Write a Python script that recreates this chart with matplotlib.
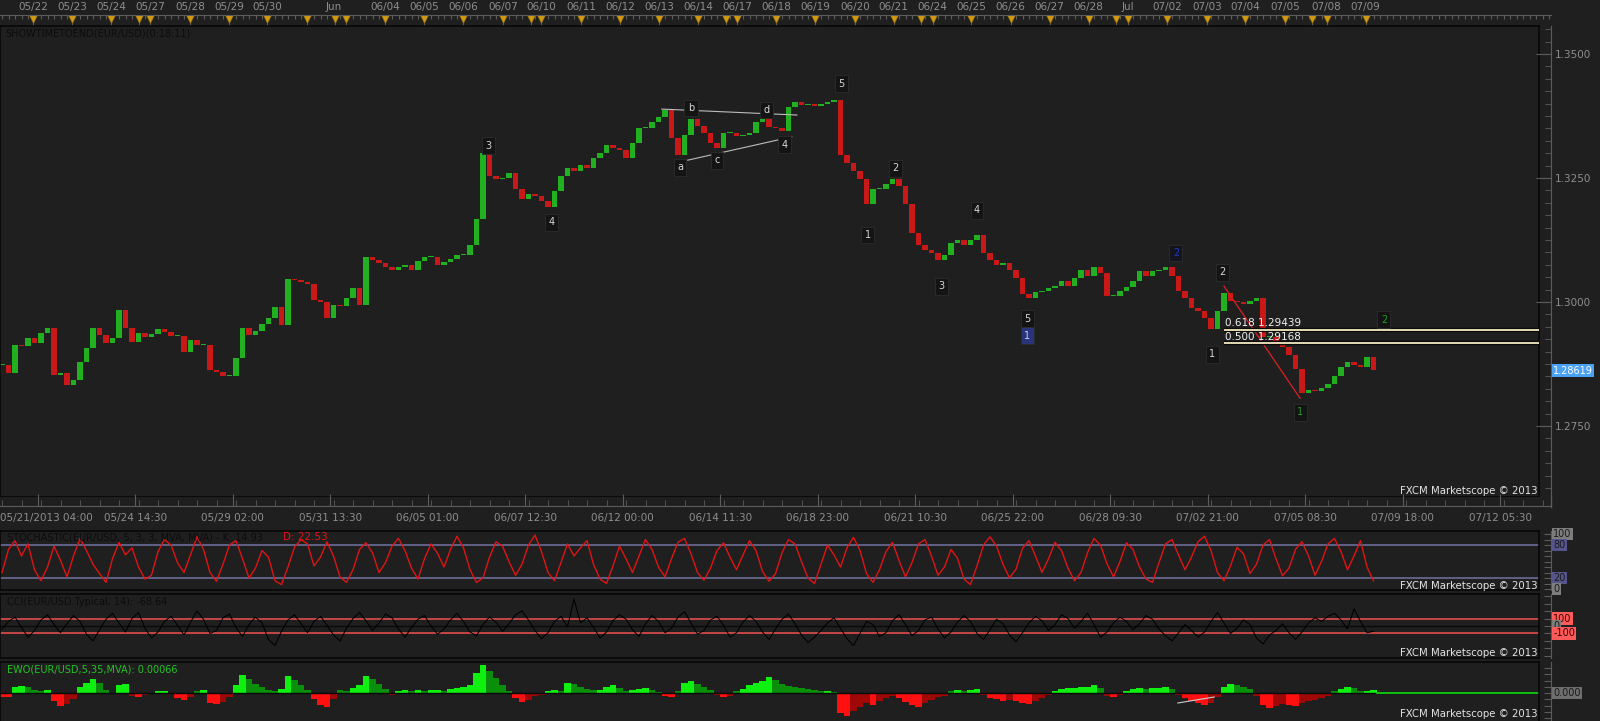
import numpy as np
import matplotlib
matplotlib.use('Agg')
import matplotlib.pyplot as plt
from matplotlib.ticker import MultipleLocator

plt.rcParams['font.family'] = ['DejaVu Sans']

# ---- data (4h bars) ----
CLOSE = [
    1.2873, 1.2857, 1.2913, 1.2911, 1.2927, 1.2917, 1.2938, 1.2948, 1.2853, 1.2857,
    1.2833, 1.2843, 1.2879, 1.2907, 1.2948, 1.2933, 1.2917, 1.2927, 1.2984, 1.2948,
    1.2919, 1.2938, 1.2929, 1.2935, 1.2946, 1.2940, 1.2931, 1.2931, 1.2899, 1.2923,
    1.2913, 1.2913, 1.2863, 1.2859, 1.2851, 1.2851, 1.2887, 1.2948, 1.2933, 1.2942,
    1.2956, 1.2968, 1.2990, 1.2954, 1.3046, 1.3044, 1.3040, 1.3036, 1.3004, 1.3000,
    1.2968, 1.2994, 1.2992, 1.3008, 1.3028, 1.2994,
    1.3091, 1.3085, 1.3079, 1.3071, 1.3065, 1.3071, 1.3075, 1.3065, 1.3083, 1.3091,
    1.3091, 1.3075, 1.3081, 1.3087, 1.3095, 1.3095, 1.3115, 1.3167,
    1.3300, 1.3254, 1.3248, 1.3250, 1.3260, 1.3228, 1.3208, 1.3218, 1.3214, 1.3204,
    1.3192, 1.3224, 1.3254, 1.3270, 1.3264, 1.3276, 1.3270, 1.3290, 1.3300, 1.3317,
    1.3310, 1.3306, 1.3290, 1.3321, 1.3351, 1.3351, 1.3363, 1.3373, 1.3387, 1.3331,
    1.3296, 1.3337, 1.3369, 1.3355, 1.3341, 1.3321, 1.3310, 1.3341, 1.3341, 1.3335,
    1.3337, 1.3341, 1.3363, 1.3369, 1.3353, 1.3351, 1.3345, 1.3393, 1.3403, 1.3397,
    1.3399, 1.3395, 1.3399, 1.3403, 1.3407,
    1.3296, 1.3280, 1.3264, 1.3248, 1.3198, 1.3228, 1.3228, 1.3238, 1.3248, 1.3234,
    1.3198, 1.3139, 1.3115, 1.3105, 1.3099, 1.3085, 1.3095, 1.3119, 1.3125, 1.3115,
    1.3125, 1.3135, 1.3099, 1.3085, 1.3075, 1.3079, 1.3065, 1.3048, 1.3016, 1.3008,
    1.3020, 1.3022, 1.3028, 1.3032, 1.3042, 1.3032, 1.3048, 1.3065, 1.3052, 1.3071,
    1.3058, 1.3012, 1.3012, 1.3022, 1.3030, 1.3042, 1.3062, 1.3052, 1.3062, 1.3065,
    1.3071, 1.3052, 1.3022, 1.3008, 1.2988, 1.2982, 1.2968, 1.2946, 1.2982, 1.3018,
    1.3002, 1.3000, 1.2996, 1.3002, 1.3008, 1.2929, 1.2929, 1.2919, 1.2909, 1.2893,
    1.2865, 1.2817, 1.2823, 1.2821, 1.2827, 1.2835, 1.2851, 1.2869, 1.2879, 1.2873,
    1.2869, 1.2889, 1.2862,
]
LAST_PRICE = 1.28619

STOCH_K = [
    30, 72, 88, 60, 82, 35, 15, 40, 78, 52, 22, 60, 92, 70, 45, 28, 12, 55, 85, 62,
    75, 40, 18, 25, 68, 90, 80, 48, 30, 62, 95, 72, 30, 14, 45, 80, 88, 55, 20, 38,
    70, 58, 15, 8, 40, 76, 90, 82, 42, 58, 86, 60, 22, 12, 35, 72, 84, 66, 30, 48,
    78, 92, 70, 38, 18, 55, 82, 65, 40, 72, 96, 75, 35, 12, 20, 58, 86, 78, 50, 25,
    45, 80, 98, 68, 30, 15, 48, 82, 60, 75, 88, 45, 18, 10, 42, 78, 55, 30, 60, 90,
    72, 40, 22, 55, 85, 92, 64, 30, 16, 38, 70, 84, 58, 35, 62, 88, 70, 32, 14, 28,
    66, 90, 82, 50, 20, 10, 45, 80, 62, 40, 75, 94, 70, 28, 12, 35, 68, 85, 52, 22,
    48, 82, 90, 60, 25, 40, 72, 56, 18, 8, 42, 80, 95, 78, 45, 20, 36, 74, 88, 60,
    30, 55, 85, 70, 38, 15, 30, 66, 92, 80, 46, 22, 50, 84, 72, 40, 18, 12, 48, 82,
    90, 62, 35, 58, 86, 96, 70, 30, 15, 42, 76, 64, 28, 45, 80, 90, 55, 24, 38, 72,
    86, 60, 25, 50, 82, 92, 68, 35, 60, 88, 40, 15,
]

CCI = [
    -40, 60, 120, -20, -150, -60, 80, 150, 20, -90, 30, 140, 60, -110, -200, -50, 90, 170, 40, -80,
    100, 180, -30, -160, -80, 60, 130, 10, -120, 50, 200, 90, -100, -60, 110, 160, -20, -140, 20, 120,
    40, -180, -260, -70, 80, 150, 30, -90, 60, 130, 10, -120, -200, -30, 100, 180, 70, -60, 40, 160,
    110, -40, -150, -20, 90, 140, 0, -110, -40, 80, 170, 60, -80, -130, 20, 120, 50, -70, 30, 150,
    200, 80, -60, -170, -90, 60, 130, -10, 360, 40, 110, -20, -160, -80, 70, 150, 90, -50, -140, 30,
    140, 60, -90, -30, 120, 190, 40, -110, -60, 80, 130, 10, -150, -90, 50, 140, 60, -80, -180, -40,
    90, 160, 30, -120, -220, -150, -60, 40, 110, -30, -170, -260, -100, 60, 20, -140, -90, 70, 150, 20,
    -130, -60, 80, 120, -40, -160, -80, 50, 140, 60, -100, -180, -50, 90, 30, -120, -210, -90, 40, 130,
    70, -60, 20, 150, 100, -30, 60, 170, 20, -150, -80, 40, 120, 60, -50, 30, 140, 90, -40, -130,
    -200, -90, 20, -60, -150, -80, 60, 180, 40, -100, -30, 80, 20, -160, -240, -120, -60, 30, -90, -180,
    -80, 40, 110, 60, 130, 170, 80, -40, 230, 60, -90, -69,
]

# EWO(5,35) histogram, units of 1e-4
EWO_E4 = [
    -8, -8, 12, 14, 12, 6, 4, 6, -16, -26, -22, -12, 12, 20, 28, 20, 6, -2, 16, 18,
    -6, -8, -4, -2, 4, 4, 0, -10, -14, -8, 4, 6, -20, -22, -18, -8, 16, 36, 28, 18,
    12, 6, 4, 8, 34, 26, 16, 6, -12, -24, -28, -12, 6, 4, 10, 16, 34, 28, 18, 8,
    -4, 4, 6, 4, 6, 4, 6, 6, 4, 8, 10, 12, 16, 40, 56, 44, 30, 16, 4, -10,
    -18, -14, -6, -4, 4, 6, 4, 20, 18, 12, 8, 6, 6, 12, 16, 10, 4, 6, 8, 10,
    6, 2, -6, -8, 4, 20, 24, 18, 12, 6, -4, -8, -6, 4, 8, 16, 20, 24, 32, 26,
    18, 14, 12, 10, 8, 6, 4, 4, 2, -40, -46, -36, -28, -20, -24, -16, -10, -6, -10, -18,
    -24, -28, -20, -14, -8, -6, 4, 6, 4, 6, 8, -4, -10, -12, -16, -14, -16, -20, -22, -16,
    -10, -4, 4, 8, 10, 10, 12, 12, 16, 10, -6, -8, -4, 4, 8, 10, 8, 10, 10, 12,
    8, -4, -10, -16, -20, -24, -20, -8, 12, 18, 16, 12, 8, -6, -24, -30, -26, -22, -24, -26,
    -20, -16, -14, -10, -6, 4, 8, 12, 10, 4, 4, 6,
]

# day markers on the top strip (bar positions)
DAY_TRI = [4.8, 10.8, 16.8, 21.1, 22.8, 28.9, 34.9, 40.8, 46.9, 51.2, 52.9, 58.9, 64.9,
           70.9, 77.1, 81.4, 82.9, 89.1, 95.1, 101.1, 107.1, 111.4, 113.1, 119.1, 125.1,
           131.2, 137.2, 141.4, 143.2, 149.1, 155.2, 161.2, 167.2, 171.4, 173.2, 179.2,
           185.4, 191.2, 197.4, 201.5, 203.8, 209.8]
DAY_TXT = ['05/22', '05/23', '05/24', '05/27', '05/28', '05/29', '05/30', 'Jun', '06/04',
           '06/05', '06/06', '06/07', '06/10', '06/11', '06/12', '06/13', '06/14', '06/17',
           '06/18', '06/19', '06/20', '06/21', '06/24', '06/25', '06/26', '06/27', '06/28',
           'Jul', '07/02', '07/03', '07/04', '07/05', '07/08', '07/09']
DAY_POS = [4.8, 10.8, 16.8, 22.8, 28.9, 34.9, 40.8, 51.1, 58.9, 64.9, 70.9, 77.1, 82.9,
           89.1, 95.1, 101.1, 107.1, 113.1, 119.1, 125.1, 131.2, 137.2, 143.2, 149.1,
           155.2, 161.2, 167.2, 173.2, 179.2, 185.4, 191.2, 197.4, 203.8, 209.8]

# bottom time axis: one label every 15 bars starting at 5.5
TIME_TXT = ['05/21/2013 04:00', '05/24 14:30', '05/29 02:00', '05/31 13:30', '06/05 01:00',
            '06/07 12:30', '06/12 00:00', '06/14 11:30', '06/18 23:00', '06/21 10:30',
            '06/25 22:00', '06/28 09:30', '07/02 21:00', '07/05 08:30', '07/09 18:00',
            '07/12 05:30']

# Elliott wave labels: bar, price, text, kind
WAVE_X = [74.8, 84.5, 104.3, 106.0, 110.0, 117.6, 120.4, 129.2, 133.2, 137.5, 144.5,
          150.0, 157.8, 157.7, 180.6, 187.8, 186.2, 199.7, 212.6]
WAVE_P = [1.3315, 1.3161, 1.3272, 1.3391, 1.3286, 1.3387, 1.3317, 1.3440, 1.3135, 1.3270,
          1.3032, 1.3185, 1.2966, 1.2932, 1.3099, 1.3060, 1.2895, 1.2778, 1.2964]
WAVE_TXT = ['3', '4', 'a', 'b', 'c', 'd', '4', '5', '1', '2', '3', '4', '5', '1', '2', '2',
            '1', '1', '2']
WAVE_KIND = ['w', 'w', 'w', 'w', 'w', 'w', 'w', 'w', 'w', 'w', 'w', 'w', 'w', 'b', 'B', 'w',
             'w', 'g', 'g']

TRI_BD = ([101.5, 122.3], [1.3389, 1.3377])
TRI_AC = ([105.5, 121.5], [1.3286, 1.3333])
FIB_SWING = ([188.0, 199.7], [1.3032, 1.2806])
FIB_RATIO = ['0.618', '0.500']
FIB_PRICE = [1.29439, 1.29168]
EWO_TREND = ([180.9, 186.5], [-20, -8])

# ---- look ----
W, H = 1600, 721
BAR_PX = 6.5
X0 = -2 / BAR_PX
BG = '#1f1f1f'
AXIS = '#5c5c5c'
TXT = '#8e8e8e'
GREEN, RED = '#20b020', '#c81818'
WM = 'FXCM Marketscope \u00a9 2013'


def add_axes(fig, x0, x1, y_top, y_bot):
    ax = fig.add_axes([x0 / W, 1 - y_bot / H, (x1 - x0) / W, (y_bot - y_top) / H])
    ax.set_facecolor(BG)
    return ax


def panel(fig, y_top, y_bot, ylim):
    ax = add_axes(fig, 0, 1539, y_top, y_bot)
    ax.set_xlim(X0, X0 + 1539 / BAR_PX)
    ax.set_ylim(*ylim)
    ax.set_xticks([])
    ax.set_yticks([])
    for s in ax.spines.values():
        s.set_color('#080808')
        s.set_linewidth(1.2)
    return ax


def side_axis(fig, y_top, y_bot, ylim, step):
    ax = add_axes(fig, 1539, 1551, y_top, y_bot)
    ax.set_facecolor('none')
    ax.set_xlim(0, 1)
    ax.set_ylim(*ylim)
    for s in ('top', 'bottom', 'left'):
        ax.spines[s].set_visible(False)
    ax.spines['right'].set_color(AXIS)
    ax.set_xticks([])
    ax.yaxis.tick_right()
    ax.yaxis.set_major_locator(MultipleLocator(step))
    ax.tick_params(axis='y', direction='in', length=5, color=AXIS, labelright=False)
    return ax


def tag(ax, y, s, fc, tc):
    ax.text(1.2, y, s, transform=ax.get_yaxis_transform(), ha='left', va='center',
            fontsize=7, color=tc, bbox=dict(boxstyle='square,pad=0.12', fc=fc, ec='none'))


def wm(y_px):
    plt.gcf().text(1537 / W, 1 - y_px / H, WM, ha='right', va='center',
                   fontsize=7.3, color='#e4e4e4')


def main():
    fig = plt.figure(figsize=(W / 100, H / 100), dpi=100)
    fig.patch.set_facecolor(BG)

    close = np.array(CLOSE)
    idx = np.arange(len(close))
    opens = np.r_[close[0], close[:-1]]
    up = close >= opens

    # ---- top day strip ----
    axt = add_axes(fig, 0, 1551, 15, 26)
    axt.set_xlim(X0, X0 + 1551 / BAR_PX)
    axt.set_ylim(0, 1)
    for s in ('bottom', 'left', 'right'):
        axt.spines[s].set_visible(False)
    axt.spines['top'].set_color(AXIS)
    axt.set_yticks([])
    axt.xaxis.tick_top()
    axt.xaxis.set_major_locator(MultipleLocator(1))
    axt.tick_params(axis='x', direction='in', length=3, color=AXIS, labeltop=False)
    axt.vlines(DAY_TRI, 0, 1, color=AXIS, lw=0.8)
    axt.plot(DAY_TRI, [0.62] * len(DAY_TRI), 'v', color='#d09a12', ms=6, mec='#8a6400', mew=0.4)
    for s, x in zip(DAY_TXT, DAY_POS):
        axt.text(x, 1.75, s, ha='center', va='center', fontsize=7.5, color=TXT)

    # ---- price panel ----
    pylim = (1.26069, 1.35565)
    ax = panel(fig, 26, 497, pylim)
    lo = np.minimum(opens, close)
    hgt = np.maximum(np.abs(close - opens), 0.00025)
    ax.bar(idx, hgt, bottom=lo, width=0.85, color=np.where(up, GREEN, RED), linewidth=0, zorder=2)
    ax.plot(*TRI_BD, color='#bdbdbd', lw=0.8, zorder=3)
    ax.plot(*TRI_AC, color='#bdbdbd', lw=0.8, zorder=3)
    ax.plot(*FIB_SWING, color='#e02020', lw=0.9, zorder=3)
    for r, p in zip(FIB_RATIO, FIB_PRICE):
        ax.plot([FIB_SWING[0][0], ax.get_xlim()[1]], [p, p], color='#0a0a0a', lw=3.2, zorder=3,
                solid_capstyle='butt')
        ax.plot([FIB_SWING[0][0], ax.get_xlim()[1]], [p, p], color='#e4dab4', lw=1.4, zorder=4,
                solid_capstyle='butt')
        ax.text(FIB_SWING[0][0] + 0.2, p + 0.0013, '%s %.5f' % (r, p), ha='left', va='center',
                fontsize=7.5, color='#f0f0f0', zorder=5)
    style = {'w': ('#d6d6d6', '#141414'), 'b': ('#c8d0ff', '#2a347a'),
             'B': ('#2036c8', '#141420'), 'g': ('#1fa01f', '#141414')}
    for x, p, s, k in zip(WAVE_X, WAVE_P, WAVE_TXT, WAVE_KIND):
        fg, bg = style[k]
        ax.text(x, p, s, ha='center', va='center', fontsize=7, color=fg, zorder=6,
                bbox=dict(boxstyle='square,pad=0.35', fc=bg, ec='#2c2c2c', lw=0.6))
    fig.text(5 / W, 1 - 33 / H, 'SHOWTIMETOEND(EUR/USD)(0:18:11)', fontsize=7,
             color='#0c0c0c', va='center')
    wm(491)

    axp = side_axis(fig, 26, 497, pylim, 0.025)
    axp.yaxis.set_minor_locator(MultipleLocator(0.0025))
    axp.tick_params(axis='y', which='major', length=11, labelright=True, labelcolor=TXT,
                    labelsize=7.5, pad=3)
    axp.tick_params(axis='y', which='minor', direction='in', length=4, color=AXIS)
    axp.yaxis.set_major_formatter(plt.FuncFormatter(lambda v, _: '%.4f' % v))
    tag(axp, LAST_PRICE, '%.5f' % LAST_PRICE, '#4aa2f4', 'white')
    fig.add_artist(plt.Line2D([1551 / W, 1551 / W], [1 - 497 / H, 1 - 507 / H], color=AXIS, lw=1))

    # ---- bottom time axis ----
    axx = add_axes(fig, 0, 1551, 497, 506)
    axx.set_xlim(X0, X0 + 1551 / BAR_PX)
    axx.set_ylim(0, 1)
    for s in ('top', 'left', 'right'):
        axx.spines[s].set_visible(False)
    axx.spines['bottom'].set_color(AXIS)
    axx.set_yticks([])
    ticks = 5.5 + 15 * np.arange(len(TIME_TXT))
    axx.set_xticks(ticks)
    axx.xaxis.set_minor_locator(MultipleLocator(3))
    axx.tick_params(axis='x', which='major', direction='in', length=9, color=AXIS, labelbottom=False)
    axx.tick_params(axis='x', which='minor', direction='in', length=4, color=AXIS)
    for i, (x, s) in enumerate(zip(ticks, TIME_TXT)):
        axx.text(X0 if i == 0 else x, -1.35, s, ha='left' if i == 0 else 'center', va='center',
                 fontsize=7.5, color=TXT)

    # ---- stochastic ----
    sylim = (-1.8, 105.5)
    axs = panel(fig, 531, 590, sylim)
    for lv in (80, 20):
        axs.axhline(lv, color='#66668f', lw=1.3)
    axs.plot(np.arange(len(STOCH_K)), STOCH_K, color='#e01414', lw=1.0)
    fig.text(7 / W, 1 - 537 / H, 'STOCHASTIC(EUR/USD, 5, 3, 3, MVA, MVA) - K: 14.93',
             fontsize=7, color='#0c0c0c', va='center')
    fig.text(283 / W, 1 - 537 / H, 'D: 22.53', fontsize=7.5, color='#e01414', va='center')
    wm(586)
    a2 = side_axis(fig, 531, 590, sylim, 10)
    tag(a2, 100, '100', '#7d7d7d', '#1a1a1a')
    tag(a2, 80, '80', '#55558c', '#1a1a1a')
    tag(a2, 20, '20', '#55558c', '#1a1a1a')
    tag(a2, 0, '0', '#7d7d7d', '#1a1a1a')

    # ---- CCI ----
    cylim = (-427, 427)
    axc = panel(fig, 594, 658, cylim)
    axc.axhline(0, color='#0a0a0a', lw=1)
    for lv in (100, -100):
        axc.axhline(lv, color='#d44a4a', lw=1.3)
    axc.plot(np.arange(len(CCI)), CCI, color='#000000', lw=0.75)
    fig.text(7 / W, 1 - 602 / H, 'CCI(EUR/USD.Typical, 14): -68.64', fontsize=7,
             color='#0c0c0c', va='center')
    wm(653)
    a3 = side_axis(fig, 594, 658, cylim, 100)
    tag(a3, 100, '100', '#ff5a5a', '#3a0000')
    tag(a3, 0, '0', '#7d7d7d', '#1a1a1a')
    tag(a3, -100, '-100', '#ff5a5a', '#3a0000')

    # ---- EWO ----
    eylim = (-0.0058, 0.0062)
    axe = panel(fig, 662, 722, eylim)
    ewo = np.array(EWO_E4) / 1e4
    grow = np.abs(ewo) >= np.abs(np.r_[0, ewo[:-1]])
    cols = np.where(ewo >= 0, np.where(grow, '#10f010', '#0a8f0a'),
                    np.where(grow, '#ff1010', '#a00808'))
    axe.bar(np.arange(len(ewo)), ewo, width=1.0, color=cols, linewidth=0)
    axe.axhline(0, color='#0a0a0a', lw=1)
    axe.plot([len(ewo) - 0.5, axe.get_xlim()[1]], [0, 0], color='#10e010', lw=1.2)
    axe.plot(EWO_TREND[0], np.array(EWO_TREND[1]) / 1e4, color='#cfcfcf', lw=0.8)
    fig.text(7 / W, 1 - 669 / H, 'EWO(EUR/USD,5,35,MVA): 0.00066', fontsize=7,
             color='#22c422', va='center')
    wm(714)
    a4 = side_axis(fig, 662, 722, eylim, 0.00125)
    tag(a4, 0, '0.000', '#6e6e6e', '#1a1a1a')

    fig.savefig('out.png', dpi=100, facecolor=fig.get_facecolor())


if __name__ == '__main__':
    main()
